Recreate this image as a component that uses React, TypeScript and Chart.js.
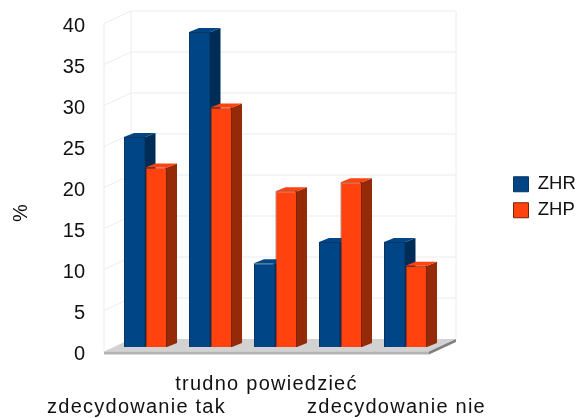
import React, { useEffect, useRef } from "react";
import { Chart, registerables } from "chart.js";

Chart.register(...registerables);

const categories: (string | string[])[] = [
  ["", "zdecydowanie tak"],
  "",
  ["trudno powiedzieć"],
  "",
  ["", "zdecydowanie nie"],
];
const zhr = [25.6, 38.4, 10.2, 12.8, 12.8];
const zhp = [21.9, 29.2, 19.0, 20.1, 9.9];
const yTicks = { min: 0, max: 40, step: 5 };
const yAxisTitle = "%";

const FONT = "'Liberation Sans', Arial, sans-serif";
const DX = 9;
const DY = -4.5;
const SX = 10;
const SY = -4;
const WALLX = 27;
const WALLY = -12.5;

const sideColors: Record<string, { side: string; top: string }> = {
  ZHR: { side: "#002d58", top: "#004586" },
  ZHP: { side: "#952a09", top: "#ff420e" },
};

const scene = {
  id: "scene",
  afterLayout(chart: any) {
    const legend = chart.legend;
    legend.left = 506;
    legend.right = 578;
    legend.top -= 23.5;
    legend.bottom -= 23.5;
    const { x, y } = chart.scales;
    if (!x.__patched) {
      x.__patched = true;
      const origX = x.drawLabels;
      x.drawLabels = function (a: any) {
        chart.ctx.letterSpacing = "1.25px";
        origX.call(this, a);
        chart.ctx.letterSpacing = "0px";
      };
      const origY = y.drawLabels;
      y.drawLabels = function (a: any) {
        chart.ctx.save();
        chart.ctx.translate(0, 2.5);
        origY.call(this, a);
        chart.ctx.restore();
      };
    }
  },
  beforeDatasetsDraw(chart: any) {
    const { ctx, chartArea: a, scales } = chart;
    const y = scales.y;
    ctx.save();
    // floor
    const y0 = a.bottom;
    ctx.fillStyle = "#d2d2d2";
    ctx.beginPath();
    ctx.moveTo(a.left, y0);
    ctx.lineTo(a.left + WALLX, y0 + WALLY);
    ctx.lineTo(a.right + WALLX, y0 + WALLY);
    ctx.lineTo(a.right, y0);
    ctx.closePath();
    ctx.fill();
    ctx.fillStyle = "#b3b3b3";
    ctx.fillRect(a.left, y0, a.right - a.left, 3);
    ctx.fillStyle = "#808080";
    ctx.beginPath();
    ctx.moveTo(a.right, y0);
    ctx.lineTo(a.right + WALLX, y0 + WALLY);
    ctx.lineTo(a.right + WALLX, y0 + WALLY + 3);
    ctx.lineTo(a.right, y0 + 3);
    ctx.closePath();
    ctx.fill();
    // walls and grid
    ctx.strokeStyle = "#ececec";
    ctx.lineWidth = 1;
    ctx.beginPath();
    for (let v = yTicks.min; v <= yTicks.max; v += yTicks.step) {
      const py = y.getPixelForValue(v);
      if (v > yTicks.min) {
        ctx.moveTo(a.left, py);
        ctx.lineTo(a.left + WALLX, py + WALLY);
        ctx.lineTo(a.right + WALLX, py + WALLY);
      }
    }
    ctx.moveTo(a.left, a.top);
    ctx.lineTo(a.left, a.bottom);
    ctx.moveTo(a.left + WALLX, a.top + WALLY);
    ctx.lineTo(a.left + WALLX, a.bottom + WALLY);
    ctx.moveTo(a.right + WALLX, a.top + WALLY);
    ctx.lineTo(a.right + WALLX, a.bottom + WALLY);
    ctx.stroke();
    // axis title
    ctx.fillStyle = "#111";
    ctx.font = `20px ${FONT}`;
    ctx.textAlign = "center";
    ctx.textBaseline = "middle";
    ctx.translate(21, 213);
    ctx.rotate(-Math.PI / 2);
    ctx.fillText(yAxisTitle, 0, 0);
    ctx.restore();

    // 3D sides and tops of every bar, behind all front faces
    ctx.save();
    ctx.translate(DX, DY);
    chart.data.datasets.forEach((ds: any, i: number) => {
      const colors = sideColors[ds.label];
      chart.getDatasetMeta(i).data.forEach((bar: any) => {
        const r = bar.x + bar.width / 2;
        const l = bar.x - bar.width / 2;
        const t = bar.y;
        const b = bar.base;
        ctx.fillStyle = colors.side;
        ctx.beginPath();
        ctx.moveTo(r - 2, t);
        ctx.lineTo(r, t);
        ctx.lineTo(r + SX, t + SY);
        ctx.lineTo(r + SX, b + SY);
        ctx.lineTo(r, b);
        ctx.lineTo(r - 2, b);
        ctx.closePath();
        ctx.fill();
        ctx.fillStyle = colors.top;
        ctx.beginPath();
        ctx.moveTo(l, t);
        ctx.lineTo(l + SX, t + SY);
        ctx.lineTo(r + SX, t + SY);
        ctx.lineTo(r, t);
        ctx.closePath();
        ctx.fill();
      });
    });
  },
  afterDatasetsDraw(chart: any) {
    chart.ctx.restore();
  },
};

export default function App() {
  const ref = useRef<HTMLCanvasElement>(null);
  useEffect(() => {
    const chart = new Chart(ref.current as HTMLCanvasElement, {
      type: "bar",
      data: {
        labels: categories as any,
        datasets: [
          {
            label: "ZHR",
            data: zhr,
            backgroundColor: "#004586",
            borderColor: "#0a3560",
            borderWidth: 1,
            inflateAmount: 0,
          },
          {
            label: "ZHP",
            data: zhp,
            backgroundColor: "#ff420e",
            borderColor: "#7a2208",
            borderWidth: 1,
            inflateAmount: 0,
          },
        ],
      },
      plugins: [scene as any],
      options: {
        animation: false,
        responsive: false,
        layout: { padding: { left: 0, right: 89, top: 23.5, bottom: 0 } },
        datasets: { bar: { barPercentage: 1, categoryPercentage: 0.662, clip: false as any } },
        font: { family: FONT },
        scales: {
          x: {
            grid: { display: false, drawTicks: false },
            border: { display: false },
            afterFit: (s: any) => {
              s.height = 66.5;
              s.paddingLeft = 0;
              s.paddingRight = 0;
            },
            ticks: {
              autoSkip: false,
              maxRotation: 0,
              minRotation: 0,
              padding: 21,
              color: "#111",
              font: { family: FONT, size: 20, lineHeight: 1.15 },
            },
          },
          y: {
            min: yTicks.min,
            max: yTicks.max,
            grid: { display: false, drawTicks: false },
            border: { display: false },
            afterFit: (s: any) => {
              s.width = 104;
              s.paddingTop = 0;
              s.paddingBottom = 0;
            },
            ticks: {
              stepSize: yTicks.step,
              padding: 19,
              color: "#111",
              font: { family: FONT, size: 20 },
            },
          },
        },
        plugins: {
          title: { display: false },
          tooltip: { enabled: false },
          legend: {
            position: "right",
            maxWidth: 60,
            labels: {
              boxWidth: 15,
              boxHeight: 15,
              padding: 7.5,
              color: "#111",
              font: { family: FONT, size: 18.5 },
            },
          },
        },
      },
    });
    return () => chart.destroy();
  }, []);
  return (
    <div style={{ position: "fixed", left: 0, top: 0, width: 578, height: 418 }}>
      <canvas ref={ref} width={578} height={418} style={{ display: "block" }} />
    </div>
  );
}
